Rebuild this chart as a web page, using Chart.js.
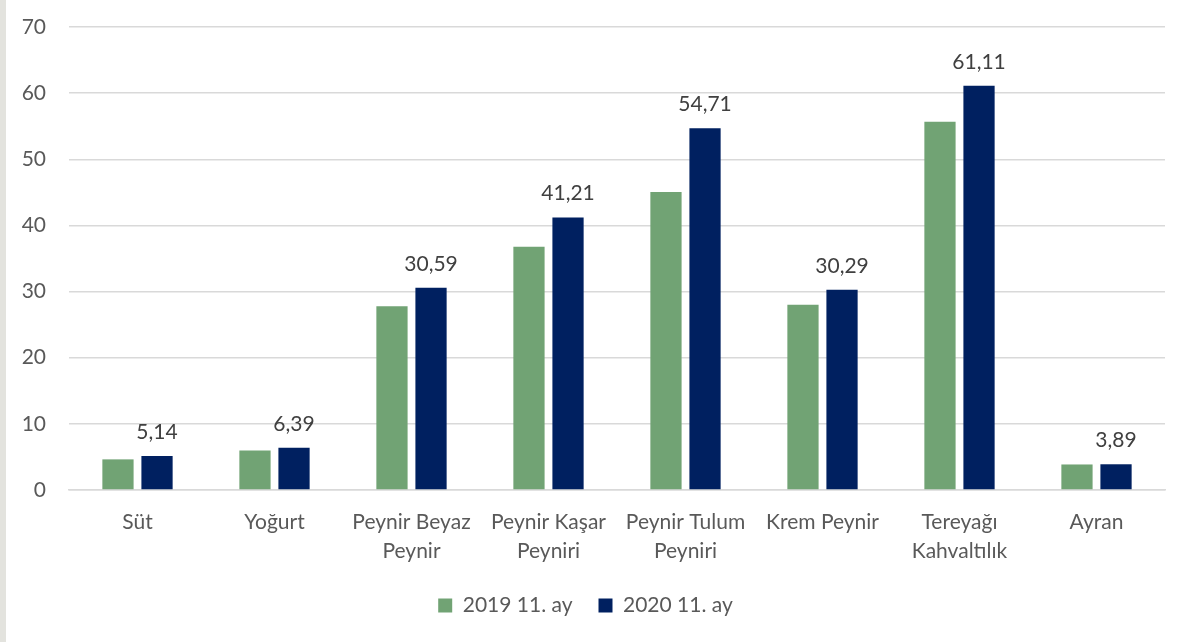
<!DOCTYPE html>
<html>
<head>
<meta charset="utf-8">
<script src="https://cdn.jsdelivr.net/npm/chart.js@4.4.0/dist/chart.umd.min.js"></script>
<style>
  html, body { margin: 0; padding: 0; background: #fff; }
  #wrap { width: 1187px; height: 642px; border-left: 6px solid #e3e3de; }
</style>
</head>
<body>
<div id="wrap"><canvas id="chart" width="1187" height="642"></canvas></div>
<script>
// categories and series
const categories = [
    "Süt",
    "Yoğurt",
    ["Peynir Beyaz", "Peynir"],
    ["Peynir Kaşar", "Peyniri"],
    ["Peynir Tulum", "Peyniri"],
    "Krem Peynir",
    ["Tereyağı", "Kahvaltılık"],
    "Ayran"
];
const values2019 = [4.63, 5.98, 27.78, 36.77, 45.05, 28.0, 55.66, 3.86];
const values2020 = [5.14, 6.39, 30.59, 41.21, 54.71, 30.29, 61.11, 3.89];
const seriesNames = ["2019 11. ay", "2020 11. ay"];
const yTicks = [0, 10, 20, 30, 40, 50, 60, 70];

const fontFamily = "Lato, 'Open Sans', sans-serif";

// value labels above the 2020 bars
const valueLabels = {
    id: "valueLabels",
    afterDatasetsDraw(chart) {
        const ctx = chart.ctx;
        const meta = chart.getDatasetMeta(1);
        ctx.save();
        ctx.font = "21px " + fontFamily;
        ctx.fillStyle = "#404040";
        ctx.textAlign = "center";
        ctx.textBaseline = "alphabetic";
        meta.data.forEach(function (bar, i) {
            const txt = values2020[i].toFixed(2).replace(".", ",");
            ctx.fillText(txt, bar.x, bar.y - 17);
        });
        ctx.restore();
    }
};

new Chart(document.getElementById("chart"), {
    type: "bar",
    data: {
        labels: categories,
        datasets: [
            {
                label: seriesNames[0],
                data: values2019,
                backgroundColor: "#71a374",
                categoryPercentage: 0.57,
                barPercentage: 0.8
            },
            {
                label: seriesNames[1],
                data: values2020,
                backgroundColor: "#002060",
                categoryPercentage: 0.57,
                barPercentage: 0.8
            }
        ]
    },
    options: {
        responsive: false,
        animation: false,
        layout: { padding: { left: 0, right: 28, top: 27, bottom: 16 } },
        plugins: {
            legend: {
                position: "bottom",
                labels: {
                    boxWidth: 14,
                    boxHeight: 14,
                    padding: 26,
                    color: "#595959",
                    font: { family: fontFamily, size: 21 }
                }
            },
            tooltip: { enabled: false }
        },
        scales: {
            x: {
                grid: { display: false },
                border: { color: "#d9d9d9", width: 1.5 },
                ticks: {
                    color: "#595959",
                    maxRotation: 0,
                    autoSkip: false,
                    padding: 10,
                    font: { family: fontFamily, size: 21, lineHeight: 1.38 }
                },
                afterFit: function (scale) { scale.height = 79; }
            },
            y: {
                min: 0,
                max: 70,
                afterBuildTicks: function (scale) {
                    scale.ticks = yTicks.map(function (v) { return { value: v }; });
                },
                grid: { color: "#d9d9d9", lineWidth: 1.5, drawTicks: false },
                border: { display: false },
                ticks: {
                    color: "#595959",
                    padding: 23,
                    font: { family: fontFamily, size: 21 }
                },
                afterFit: function (scale) {
                    scale.width = 63;
                    scale.paddingTop = 0;
                    scale.paddingBottom = 0;
                }
            }
        }
    },
    plugins: [valueLabels]
});
</script>
</body>
</html>
